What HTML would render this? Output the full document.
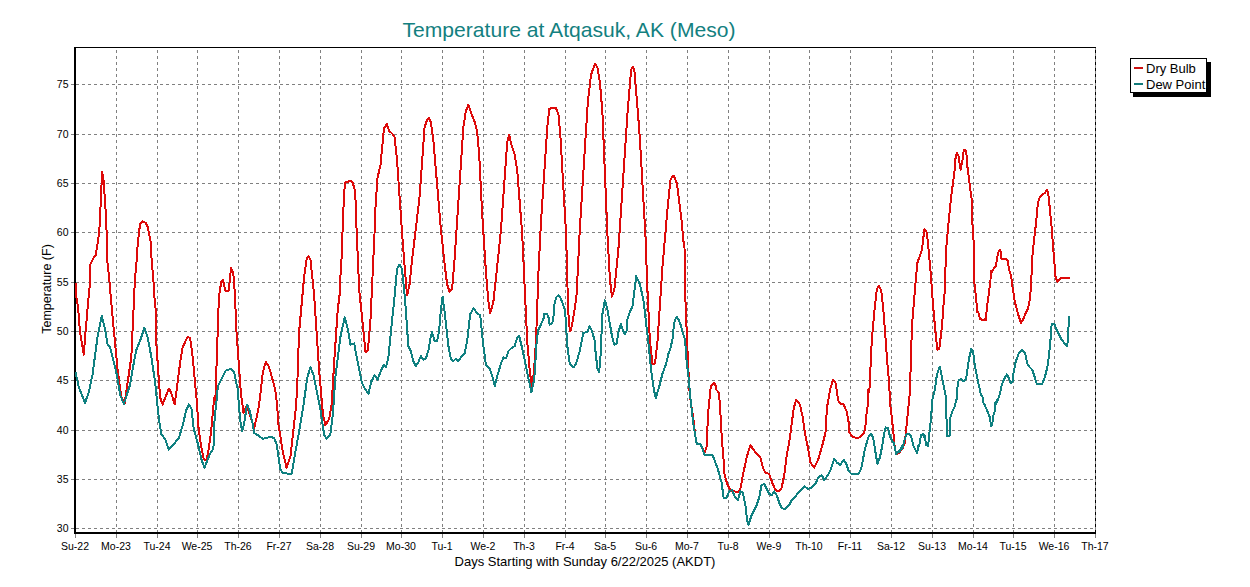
<!DOCTYPE html>
<html><head><meta charset="utf-8"><style>
html,body{margin:0;padding:0;background:#fff;width:1250px;height:587px;overflow:hidden;position:relative;font-family:"Liberation Sans",sans-serif;}
.xl{position:absolute;top:540px;width:60px;text-align:center;font-size:10.5px;line-height:13px;color:#000;white-space:nowrap}
.yl{position:absolute;left:30px;width:38.5px;text-align:right;font-size:10.5px;line-height:13px;color:#000}
.title{position:absolute;left:-1px;top:18px;width:1140px;text-align:center;font-size:21.1px;line-height:24px;color:#138080;white-space:nowrap}
.xt{position:absolute;left:0;top:554px;width:1170px;text-align:center;font-size:13px;line-height:15px;color:#000;white-space:nowrap}
.yt{position:absolute;left:-3px;top:282px;width:100px;text-align:center;font-size:12.5px;line-height:14px;color:#000;transform:rotate(-90deg);white-space:nowrap}
.lg{position:absolute;left:1146px;font-size:13px;line-height:15px;color:#000;white-space:nowrap}
</style></head><body>
<svg width="1250" height="587" viewBox="0 0 1250 587" style="position:absolute;left:0;top:0"><line x1="76" y1="528.5" x2="1095" y2="528.5" stroke="#808080" stroke-width="1" stroke-dasharray="3 3" stroke-dashoffset="0"/><line x1="71" y1="528.5" x2="79" y2="528.5" stroke="#808080" stroke-width="1"/><line x1="76" y1="479.5" x2="1095" y2="479.5" stroke="#808080" stroke-width="1" stroke-dasharray="3 3" stroke-dashoffset="0"/><line x1="71" y1="479.5" x2="79" y2="479.5" stroke="#808080" stroke-width="1"/><line x1="76" y1="430.5" x2="1095" y2="430.5" stroke="#808080" stroke-width="1" stroke-dasharray="3 3" stroke-dashoffset="0"/><line x1="71" y1="430.5" x2="79" y2="430.5" stroke="#808080" stroke-width="1"/><line x1="76" y1="380.5" x2="1095" y2="380.5" stroke="#808080" stroke-width="1" stroke-dasharray="3 3" stroke-dashoffset="0"/><line x1="71" y1="380.5" x2="79" y2="380.5" stroke="#808080" stroke-width="1"/><line x1="76" y1="331.5" x2="1095" y2="331.5" stroke="#808080" stroke-width="1" stroke-dasharray="3 3" stroke-dashoffset="0"/><line x1="71" y1="331.5" x2="79" y2="331.5" stroke="#808080" stroke-width="1"/><line x1="76" y1="282.5" x2="1095" y2="282.5" stroke="#808080" stroke-width="1" stroke-dasharray="3 3" stroke-dashoffset="0"/><line x1="71" y1="282.5" x2="79" y2="282.5" stroke="#808080" stroke-width="1"/><line x1="76" y1="232.5" x2="1095" y2="232.5" stroke="#808080" stroke-width="1" stroke-dasharray="3 3" stroke-dashoffset="0"/><line x1="71" y1="232.5" x2="79" y2="232.5" stroke="#808080" stroke-width="1"/><line x1="76" y1="183.5" x2="1095" y2="183.5" stroke="#808080" stroke-width="1" stroke-dasharray="3 3" stroke-dashoffset="0"/><line x1="71" y1="183.5" x2="79" y2="183.5" stroke="#808080" stroke-width="1"/><line x1="76" y1="134.5" x2="1095" y2="134.5" stroke="#808080" stroke-width="1" stroke-dasharray="3 3" stroke-dashoffset="0"/><line x1="71" y1="134.5" x2="79" y2="134.5" stroke="#808080" stroke-width="1"/><line x1="76" y1="84.5" x2="1095" y2="84.5" stroke="#808080" stroke-width="1" stroke-dasharray="3 3" stroke-dashoffset="0"/><line x1="71" y1="84.5" x2="79" y2="84.5" stroke="#808080" stroke-width="1"/><line x1="116.5" y1="48" x2="116.5" y2="532" stroke="#808080" stroke-width="1" stroke-dasharray="3 3" stroke-dashoffset="4"/><line x1="157.5" y1="48" x2="157.5" y2="532" stroke="#808080" stroke-width="1" stroke-dasharray="3 3" stroke-dashoffset="4"/><line x1="197.5" y1="48" x2="197.5" y2="532" stroke="#808080" stroke-width="1" stroke-dasharray="3 3" stroke-dashoffset="4"/><line x1="238.5" y1="48" x2="238.5" y2="532" stroke="#808080" stroke-width="1" stroke-dasharray="3 3" stroke-dashoffset="4"/><line x1="279.5" y1="48" x2="279.5" y2="532" stroke="#808080" stroke-width="1" stroke-dasharray="3 3" stroke-dashoffset="4"/><line x1="320.5" y1="48" x2="320.5" y2="532" stroke="#808080" stroke-width="1" stroke-dasharray="3 3" stroke-dashoffset="4"/><line x1="361.5" y1="48" x2="361.5" y2="532" stroke="#808080" stroke-width="1" stroke-dasharray="3 3" stroke-dashoffset="4"/><line x1="401.5" y1="48" x2="401.5" y2="532" stroke="#808080" stroke-width="1" stroke-dasharray="3 3" stroke-dashoffset="4"/><line x1="442.5" y1="48" x2="442.5" y2="532" stroke="#808080" stroke-width="1" stroke-dasharray="3 3" stroke-dashoffset="4"/><line x1="483.5" y1="48" x2="483.5" y2="532" stroke="#808080" stroke-width="1" stroke-dasharray="3 3" stroke-dashoffset="4"/><line x1="524.5" y1="48" x2="524.5" y2="532" stroke="#808080" stroke-width="1" stroke-dasharray="3 3" stroke-dashoffset="4"/><line x1="565.5" y1="48" x2="565.5" y2="532" stroke="#808080" stroke-width="1" stroke-dasharray="3 3" stroke-dashoffset="4"/><line x1="605.5" y1="48" x2="605.5" y2="532" stroke="#808080" stroke-width="1" stroke-dasharray="3 3" stroke-dashoffset="4"/><line x1="646.5" y1="48" x2="646.5" y2="532" stroke="#808080" stroke-width="1" stroke-dasharray="3 3" stroke-dashoffset="4"/><line x1="687.5" y1="48" x2="687.5" y2="532" stroke="#808080" stroke-width="1" stroke-dasharray="3 3" stroke-dashoffset="4"/><line x1="728.5" y1="48" x2="728.5" y2="532" stroke="#808080" stroke-width="1" stroke-dasharray="3 3" stroke-dashoffset="4"/><line x1="769.5" y1="48" x2="769.5" y2="532" stroke="#808080" stroke-width="1" stroke-dasharray="3 3" stroke-dashoffset="4"/><line x1="809.5" y1="48" x2="809.5" y2="532" stroke="#808080" stroke-width="1" stroke-dasharray="3 3" stroke-dashoffset="4"/><line x1="850.5" y1="48" x2="850.5" y2="532" stroke="#808080" stroke-width="1" stroke-dasharray="3 3" stroke-dashoffset="4"/><line x1="891.5" y1="48" x2="891.5" y2="532" stroke="#808080" stroke-width="1" stroke-dasharray="3 3" stroke-dashoffset="4"/><line x1="932.5" y1="48" x2="932.5" y2="532" stroke="#808080" stroke-width="1" stroke-dasharray="3 3" stroke-dashoffset="4"/><line x1="973.5" y1="48" x2="973.5" y2="532" stroke="#808080" stroke-width="1" stroke-dasharray="3 3" stroke-dashoffset="4"/><line x1="1013.5" y1="48" x2="1013.5" y2="532" stroke="#808080" stroke-width="1" stroke-dasharray="3 3" stroke-dashoffset="4"/><line x1="1054.5" y1="48" x2="1054.5" y2="532" stroke="#808080" stroke-width="1" stroke-dasharray="3 3" stroke-dashoffset="4"/><line x1="75.5" y1="530" x2="75.5" y2="538" stroke="#808080" stroke-width="1"/><line x1="116.5" y1="530" x2="116.5" y2="538" stroke="#808080" stroke-width="1"/><line x1="157.5" y1="530" x2="157.5" y2="538" stroke="#808080" stroke-width="1"/><line x1="197.5" y1="530" x2="197.5" y2="538" stroke="#808080" stroke-width="1"/><line x1="238.5" y1="530" x2="238.5" y2="538" stroke="#808080" stroke-width="1"/><line x1="279.5" y1="530" x2="279.5" y2="538" stroke="#808080" stroke-width="1"/><line x1="320.5" y1="530" x2="320.5" y2="538" stroke="#808080" stroke-width="1"/><line x1="361.5" y1="530" x2="361.5" y2="538" stroke="#808080" stroke-width="1"/><line x1="401.5" y1="530" x2="401.5" y2="538" stroke="#808080" stroke-width="1"/><line x1="442.5" y1="530" x2="442.5" y2="538" stroke="#808080" stroke-width="1"/><line x1="483.5" y1="530" x2="483.5" y2="538" stroke="#808080" stroke-width="1"/><line x1="524.5" y1="530" x2="524.5" y2="538" stroke="#808080" stroke-width="1"/><line x1="565.5" y1="530" x2="565.5" y2="538" stroke="#808080" stroke-width="1"/><line x1="605.5" y1="530" x2="605.5" y2="538" stroke="#808080" stroke-width="1"/><line x1="646.5" y1="530" x2="646.5" y2="538" stroke="#808080" stroke-width="1"/><line x1="687.5" y1="530" x2="687.5" y2="538" stroke="#808080" stroke-width="1"/><line x1="728.5" y1="530" x2="728.5" y2="538" stroke="#808080" stroke-width="1"/><line x1="769.5" y1="530" x2="769.5" y2="538" stroke="#808080" stroke-width="1"/><line x1="809.5" y1="530" x2="809.5" y2="538" stroke="#808080" stroke-width="1"/><line x1="850.5" y1="530" x2="850.5" y2="538" stroke="#808080" stroke-width="1"/><line x1="891.5" y1="530" x2="891.5" y2="538" stroke="#808080" stroke-width="1"/><line x1="932.5" y1="530" x2="932.5" y2="538" stroke="#808080" stroke-width="1"/><line x1="973.5" y1="530" x2="973.5" y2="538" stroke="#808080" stroke-width="1"/><line x1="1013.5" y1="530" x2="1013.5" y2="538" stroke="#808080" stroke-width="1"/><line x1="1054.5" y1="530" x2="1054.5" y2="538" stroke="#808080" stroke-width="1"/><line x1="1095.5" y1="530" x2="1095.5" y2="538" stroke="#808080" stroke-width="1"/><line x1="1095.5" y1="48" x2="1095.5" y2="532" stroke="#888" stroke-width="1"/><line x1="1095.5" y1="48" x2="1095.5" y2="532" stroke="#000" stroke-width="1" stroke-dasharray="3 3" stroke-dashoffset="4"/><rect x="74" y="47" width="1022" height="1" fill="#000"/><rect x="74" y="47" width="2" height="487" fill="#000"/><rect x="74" y="532" width="1022" height="2" fill="#000"/><path d="M75.6,282.8 L76.4,297.3 L78.0,306.9 L80.0,332.1 L83.8,354.7 L85.5,332.1 L88.4,298.9 L90.0,282.8 L90.0,265.2 L94.0,257.2 L95.6,255.6 L97.2,246.0 L98.8,234.8 L99.5,227.7 L100.5,207.6 L102.1,171.8 L103.6,180.1 L105.1,202.6 L106.3,220.2 L107.1,258.8 L109.2,278.0 L110.8,297.3 L113.8,329.6 L117.6,369.7 L121.3,397.2 L124.6,403.5 L131.3,357.2 L134.1,297.3 L134.9,279.6 L136.5,262.0 L137.3,249.2 L138.9,233.2 L140.1,223.9 L142.6,221.4 L145.6,222.7 L148.1,227.7 L148.5,230.8 L150.9,242.8 L151.7,262.0 L153.3,278.0 L154.1,294.1 L155.7,310.1 L156.4,344.6 L160.1,397.2 L162.6,404.5 L168.9,388.5 L171.4,393.5 L174.7,404.5 L180.2,362.2 L182.7,347.1 L187.7,336.6 L190.2,338.4 L192.7,357.2 L197.0,403.6 L198.4,426.8 L200.4,441.8 L203.8,459.5 L206.6,459.5 L208.6,449.9 L210.7,435.0 L212.7,414.5 L214.1,398.2 L215.2,404.0 L217.7,332.1 L218.9,297.3 L221.3,281.2 L222.9,279.6 L225.3,290.8 L228.5,290.8 L230.1,278.0 L230.9,267.6 L233.3,273.2 L234.9,294.1 L236.5,332.1 L240.9,393.3 L243.5,412.7 L246.8,405.5 L254.2,428.0 L258.3,409.6 L260.3,395.3 L262.8,372.2 L265.8,361.7 L269.1,367.2 L275.2,389.2 L277.2,405.5 L278.2,422.9 L282.8,451.6 L286.6,467.9 L290.4,456.6 L295.6,410.6 L297.1,390.2 L298.0,362.1 L299.1,332.1 L304.1,277.0 L306.6,259.0 L308.4,256.5 L310.4,259.0 L314.1,294.6 L319.1,369.7 L322.9,414.0 L325.4,425.3 L329.2,419.0 L331.7,404.0 L334.2,362.2 L337.9,307.1 L339.4,298.3 L340.0,283.7 L341.1,264.6 L341.7,256.7 L342.9,220.2 L343.8,200.4 L344.9,182.5 L347.2,181.9 L350.6,180.8 L352.8,183.0 L354.8,190.3 L355.5,200.1 L356.7,232.7 L359.2,289.6 L363.0,327.1 L365.5,352.2 L368.0,349.6 L370.5,319.6 L374.5,234.1 L375.0,215.2 L377.5,177.6 L380.5,165.1 L384.0,128.4 L387.0,124.1 L389.0,130.9 L392.0,133.4 L394.5,137.1 L397.0,159.7 L402.0,231.6 L404.6,266.6 L407.1,295.4 L409.6,284.2 L412.1,259.1 L415.8,229.1 L419.6,196.5 L424.6,127.1 L427.1,119.6 L429.1,117.9 L430.8,122.1 L433.3,139.6 L440.9,229.1 L444.6,264.1 L447.1,284.2 L449.6,291.7 L452.1,289.2 L454.6,259.1 L457.1,221.6 L463.4,127.1 L465.9,110.9 L468.4,104.6 L470.9,112.1 L474.7,122.1 L477.2,132.1 L479.2,154.7 L482.2,214.0 L485.9,271.6 L488.4,301.7 L490.2,313.0 L493.4,301.7 L497.2,266.6 L501.0,229.1 L507.2,142.2 L509.2,135.1 L511.7,145.9 L514.7,154.7 L517.2,169.7 L522.2,234.1 L527.2,341.0 L529.8,371.1 L532.3,389.9 L534.3,366.1 L536.0,341.0 L538.5,271.6 L541.0,221.6 L547.3,127.1 L549.3,109.1 L552.3,107.6 L556.0,108.3 L558.5,114.6 L560.3,134.6 L566.1,234.1 L568.0,305.4 L569.0,323.8 L570.1,331.5 L571.1,328.9 L573.1,318.7 L575.2,305.4 L576.7,293.2 L579.8,229.1 L587.8,102.1 L591.1,74.5 L594.9,64.0 L597.4,67.0 L599.9,82.1 L602.4,112.1 L607.4,234.1 L609.9,279.2 L611.9,296.7 L614.4,289.2 L618.6,246.6 L627.4,114.6 L629.9,84.6 L631.2,69.5 L632.9,66.5 L634.4,70.8 L636.2,92.1 L637.9,112.1 L639.9,139.6 L645.4,234.1 L647.4,289.2 L649.9,341.0 L652.4,363.6 L655.0,363.6 L657.5,341.0 L662.5,266.6 L667.5,209.0 L670.5,179.7 L673.0,176.0 L674.0,176.3 L677.0,183.8 L679.0,200.1 L681.5,220.1 L684.0,246.6 L684.5,247.7 L685.3,297.0 L687.0,339.6 L689.4,390.4 L690.9,403.7 L693.0,416.0 L695.3,436.2 L696.9,444.4 L700.4,443.9 L702.0,447.5 L704.5,452.6 L706.6,447.0 L707.1,438.3 L707.8,417.0 L709.8,395.5 L710.9,385.8 L713.9,382.8 L715.5,385.3 L716.5,389.9 L719.0,393.0 L720.1,407.8 L721.9,440.3 L723.4,455.6 L723.9,471.0 L726.0,480.2 L727.8,485.1 L730.3,490.1 L734.1,491.4 L737.9,492.1 L740.4,488.9 L742.9,475.1 L746.6,457.6 L750.4,445.1 L752.9,448.8 L756.6,453.8 L760.4,457.6 L762.9,467.6 L765.4,472.6 L769.2,473.9 L772.2,482.6 L775.4,490.1 L779.2,491.4 L781.7,487.6 L784.2,475.1 L786.7,455.1 L789.2,442.6 L793.8,407.8 L796.3,399.6 L799.9,404.7 L802.5,416.0 L805.5,436.3 L808.0,447.6 L810.5,462.6 L814.2,467.6 L818.0,460.1 L821.7,447.6 L825.5,432.6 L826.0,420.1 L827.5,404.7 L830.1,389.4 L833.1,379.7 L835.7,383.3 L838.2,400.6 L840.3,403.7 L843.3,403.7 L846.4,410.9 L848.4,420.1 L849.4,432.4 L852.5,436.8 L856.8,438.0 L860.0,437.4 L863.7,433.7 L865.0,429.9 L866.8,411.2 L867.3,412.5 L868.1,389.7 L869.3,392.5 L871.8,339.6 L874.3,312.1 L876.8,289.5 L878.8,285.8 L881.3,290.8 L883.1,307.0 L885.6,339.6 L888.1,372.2 L889.3,383.7 L889.9,405.0 L890.6,407.2 L891.8,417.4 L893.7,436.2 L894.9,448.6 L896.2,454.3 L899.3,452.5 L902.4,448.7 L904.9,442.5 L908.0,411.2 L909.9,392.5 L911.9,327.1 L913.9,302.0 L915.6,282.0 L917.4,262.7 L921.9,250.2 L924.4,228.9 L926.9,232.6 L928.9,252.7 L930.7,272.7 L933.2,307.0 L935.7,334.6 L937.4,350.1 L939.4,348.4 L941.9,326.2 L941.9,327.1 L943.7,302.4 L944.4,297.0 L946.2,248.7 L948.1,227.5 L951.2,196.2 L953.1,182.4 L954.4,172.4 L955.6,157.5 L956.8,152.5 L958.5,156.2 L960.6,170.0 L962.5,160.0 L963.7,150.6 L965.0,149.4 L966.2,151.2 L967.5,167.5 L969.3,181.2 L971.2,196.2 L971.5,197.6 L972.2,220.0 L973.7,242.4 L974.3,282.5 L975.7,294.5 L977.4,312.4 L978.2,312.1 L979.9,318.7 L981.5,319.6 L982.4,319.9 L985.6,319.3 L986.0,320.1 L986.8,307.4 L988.7,295.0 L990.5,280.0 L990.9,271.1 L991.8,271.9 L993.7,268.6 L996.2,266.2 L996.8,258.7 L998.7,251.2 L999.9,249.9 L1000.9,252.4 L1001.2,258.7 L1004.9,258.7 L1007.4,259.9 L1009.3,269.9 L1011.1,276.2 L1012.4,286.2 L1014.9,302.4 L1018.0,313.7 L1020.9,323.0 L1023.0,319.9 L1025.5,313.7 L1028.0,308.7 L1029.9,298.7 L1031.1,285.0 L1032.3,257.4 L1034.2,238.7 L1036.1,222.5 L1038.0,202.4 L1039.8,197.4 L1042.3,194.9 L1044.8,193.0 L1047.1,189.9 L1048.3,193.7 L1049.2,202.4 L1051.7,227.5 L1052.9,244.9 L1054.2,259.9 L1055.4,274.9 L1055.4,276.2 L1057.3,281.9 L1059.8,278.7 L1063.5,277.7 L1069.8,277.7" fill="none" stroke="#dd0a0a" stroke-width="2" stroke-linejoin="round" shape-rendering="crispEdges"/><path d="M75.5,372.2 L78.8,387.2 L85.0,402.8 L88.8,392.2 L92.5,374.7 L97.5,337.1 L101.8,315.8 L105.1,329.6 L107.6,344.6 L110.1,347.1 L112.6,357.2 L116.3,372.2 L120.1,394.7 L123.8,404.0 L130.1,384.7 L133.9,362.2 L136.4,349.6 L140.1,340.9 L144.4,327.9 L147.6,337.1 L151.4,357.2 L155.1,382.2 L158.9,419.0 L161.4,434.1 L165.2,439.1 L168.9,449.6 L173.9,444.1 L178.9,437.8 L182.7,425.4 L186.1,410.4 L188.9,404.3 L191.6,409.1 L193.6,428.1 L197.7,443.1 L201.8,460.8 L204.5,467.7 L210.0,454.0 L213.4,448.6 L214.1,430.9 L214.7,417.2 L216.8,398.2 L217.9,386.0 L225.6,370.7 L230.7,369.0 L234.1,372.4 L237.9,390.2 L238.9,405.5 L240.4,420.9 L242.0,431.6 L244.0,423.9 L247.1,404.5 L249.6,410.6 L252.7,423.9 L254.2,433.1 L257.8,435.2 L262.9,438.7 L271.1,436.7 L274.1,438.2 L276.6,444.1 L280.3,469.1 L282.8,472.9 L287.8,473.6 L291.6,474.1 L294.1,459.1 L299.1,431.6 L302.9,409.0 L307.4,377.2 L310.4,367.2 L313.4,374.7 L317.9,397.2 L320.4,409.0 L324.2,435.3 L326.7,438.6 L330.4,434.1 L332.9,414.0 L335.4,377.2 L340.4,337.1 L344.7,317.1 L347.9,329.6 L350.4,344.6 L354.2,343.4 L356.7,357.2 L361.7,382.2 L365.5,389.7 L368.5,393.5 L371.7,379.7 L372.0,381.1 L374.5,374.8 L377.5,379.8 L380.8,371.1 L384.0,364.8 L385.8,367.3 L388.3,358.6 L390.8,333.5 L394.5,296.7 L397.0,269.1 L399.5,264.6 L402.0,269.1 L404.1,289.2 L405.8,309.2 L408.3,346.0 L410.8,351.0 L413.3,361.1 L415.8,366.1 L418.3,362.3 L420.8,356.1 L423.3,359.8 L425.8,358.6 L428.3,351.0 L430.8,336.0 L432.1,332.3 L434.6,341.0 L437.1,341.0 L439.1,331.0 L440.9,309.2 L442.6,296.7 L444.6,311.7 L448.4,346.0 L450.9,358.6 L453.4,361.1 L455.9,358.6 L458.4,361.1 L460.9,357.3 L464.6,353.6 L467.2,341.0 L470.2,314.2 L473.4,308.4 L477.2,313.0 L480.2,315.5 L483.4,346.0 L485.9,364.8 L489.7,368.6 L492.2,376.1 L494.7,386.1 L497.2,376.1 L501.0,363.6 L503.5,357.3 L506.0,358.6 L508.5,351.0 L511.0,348.5 L514.7,346.0 L517.2,337.3 L519.2,336.0 L522.2,348.5 L526.0,366.1 L528.5,378.6 L531.5,392.4 L534.3,378.6 L536.9,338.1 L538.4,329.9 L540.4,325.9 L543.5,318.7 L544.5,313.6 L547.1,314.1 L548.6,317.7 L549.6,324.8 L551.2,323.8 L553.2,320.8 L554.2,305.4 L556.3,297.3 L558.3,295.2 L560.3,297.3 L562.9,304.4 L564.9,310.5 L566.0,321.8 L566.5,333.0 L567.3,346.0 L569.8,363.6 L573.6,367.3 L576.1,363.6 L579.8,351.0 L582.3,338.1 L583.3,333.0 L587.4,332.0 L589.5,325.9 L591.5,329.9 L594.6,340.2 L594.9,346.0 L597.4,368.6 L599.1,372.3 L600.4,358.6 L602.4,314.2 L604.9,300.4 L607.4,309.2 L611.9,335.7 L614.2,344.7 L616.4,344.2 L618.7,331.2 L620.9,323.9 L623.2,331.2 L624.9,334.1 L627.1,330.1 L627.4,319.2 L629.9,311.7 L632.4,306.7 L636.2,276.1 L639.9,284.2 L643.7,301.7 L648.7,346.0 L651.2,371.1 L653.7,388.6 L655.7,398.1 L658.7,388.6 L662.5,373.6 L666.2,363.6 L668.6,353.1 L670.6,348.0 L672.7,337.8 L673.7,327.6 L674.7,320.4 L676.8,316.9 L678.3,318.9 L680.9,325.5 L682.9,333.7 L684.9,338.8 L685.5,346.0 L686.5,359.6 L688.5,377.2 L690.3,397.2 L692.8,420.0 L695.3,436.2 L696.9,444.4 L700.4,443.9 L702.0,447.5 L704.5,455.1 L712.7,455.1 L714.7,460.8 L717.8,468.9 L721.6,482.6 L723.6,497.7 L726.6,497.7 L729.1,491.4 L732.1,490.1 L735.3,497.7 L737.9,500.2 L740.4,491.4 L742.9,492.6 L745.4,505.2 L747.1,520.2 L748.6,524.7 L751.6,515.2 L754.1,510.2 L756.6,505.2 L759.1,497.7 L761.6,485.1 L764.1,483.9 L766.6,488.9 L769.2,493.9 L771.7,495.2 L774.2,491.4 L776.7,495.2 L779.2,502.7 L781.7,508.2 L785.4,508.9 L789.2,505.2 L791.7,500.2 L795.4,496.4 L799.2,491.4 L804.2,486.4 L808.0,488.9 L811.7,487.6 L815.5,483.9 L818.0,477.6 L821.7,475.1 L824.2,480.1 L828.0,475.1 L830.5,470.1 L834.3,458.8 L836.8,462.6 L839.3,463.9 L840.0,464.9 L843.7,460.0 L846.2,463.7 L848.7,471.2 L851.2,473.7 L858.7,473.7 L861.2,468.7 L865.0,448.7 L868.7,436.2 L871.2,433.7 L873.1,437.5 L874.9,448.7 L877.4,463.7 L879.9,457.5 L882.4,445.0 L883.7,436.2 L885.6,427.4 L888.0,428.0 L889.9,436.2 L892.4,441.2 L893.7,442.5 L896.2,454.3 L898.7,451.1 L899.3,452.5 L901.8,446.1 L902.4,448.7 L904.9,438.7 L906.8,433.7 L907.4,433.7 L909.9,434.3 L911.1,436.2 L911.8,438.7 L913.6,446.1 L914.9,448.7 L917.1,453.1 L918.6,444.9 L919.2,446.2 L921.1,434.9 L922.4,435.0 L923.4,433.7 L924.9,438.7 L924.9,436.2 L926.1,444.9 L927.4,445.0 L928.0,446.1 L929.2,436.2 L929.2,435.0 L931.1,417.4 L932.3,400.0 L934.8,390.0 L936.9,374.7 L939.9,366.6 L945.5,395.0 L946.7,423.7 L947.3,436.2 L949.6,436.2 L950.1,418.7 L952.3,411.2 L954.8,406.2 L956.7,398.7 L956.8,388.7 L957.9,386.2 L958.7,379.9 L961.2,379.3 L963.7,381.2 L966.2,378.7 L967.5,368.7 L969.3,357.5 L971.4,348.7 L973.1,351.2 L974.9,366.2 L977.4,378.7 L979.9,389.9 L981.0,395.0 L982.4,396.2 L983.7,403.7 L984.8,405.0 L987.4,411.2 L989.8,417.4 L989.9,417.5 L991.2,426.2 L991.4,426.2 L992.4,422.5 L993.5,414.9 L994.3,413.7 L995.5,402.5 L996.1,403.7 L997.4,399.9 L998.0,400.0 L999.9,393.7 L1001.8,384.9 L1004.3,378.7 L1006.8,374.3 L1008.6,377.4 L1010.5,383.0 L1012.4,382.4 L1013.6,372.4 L1015.5,362.5 L1018.6,353.7 L1022.4,350.0 L1024.9,352.5 L1027.4,363.7 L1029.9,367.4 L1032.3,369.9 L1034.8,377.4 L1036.7,383.7 L1039.8,383.7 L1042.3,383.7 L1044.8,377.4 L1047.3,367.4 L1049.2,353.7 L1050.4,341.2 L1051.7,323.7 L1054.2,323.7 L1056.1,328.7 L1061.1,338.7 L1064.8,343.7 L1067.3,346.2 L1069.2,316.2" fill="none" stroke="#0f8080" stroke-width="2" stroke-linejoin="round" shape-rendering="crispEdges"/><rect x="1133" y="62" width="78" height="35" fill="#000"/><rect x="1130.5" y="58.5" width="76" height="34" fill="#fff" stroke="#000" stroke-width="1"/><rect x="1134" y="67" width="9" height="2" fill="#cc1111"/><rect x="1134" y="83" width="9" height="2" fill="#117a7a"/></svg>
<div class="title">Temperature at Atqasuk, AK (Meso)</div>
<div class="xl" style="left:45.0px">Su-22</div><div class="xl" style="left:86.0px">Mo-23</div><div class="xl" style="left:127.0px">Tu-24</div><div class="xl" style="left:167.0px">We-25</div><div class="xl" style="left:208.0px">Th-26</div><div class="xl" style="left:249.0px">Fr-27</div><div class="xl" style="left:290.0px">Sa-28</div><div class="xl" style="left:331.0px">Su-29</div><div class="xl" style="left:371.0px">Mo-30</div><div class="xl" style="left:412.0px">Tu-1</div><div class="xl" style="left:453.0px">We-2</div><div class="xl" style="left:494.0px">Th-3</div><div class="xl" style="left:535.0px">Fr-4</div><div class="xl" style="left:575.0px">Sa-5</div><div class="xl" style="left:616.0px">Su-6</div><div class="xl" style="left:657.0px">Mo-7</div><div class="xl" style="left:698.0px">Tu-8</div><div class="xl" style="left:739.0px">We-9</div><div class="xl" style="left:779.0px">Th-10</div><div class="xl" style="left:820.0px">Fr-11</div><div class="xl" style="left:861.0px">Sa-12</div><div class="xl" style="left:902.0px">Su-13</div><div class="xl" style="left:943.0px">Mo-14</div><div class="xl" style="left:983.0px">Tu-15</div><div class="xl" style="left:1024.0px">We-16</div><div class="xl" style="left:1065.0px">Th-17</div><div class="yl" style="top:522.0px">30</div><div class="yl" style="top:473.0px">35</div><div class="yl" style="top:424.0px">40</div><div class="yl" style="top:374.0px">45</div><div class="yl" style="top:325.0px">50</div><div class="yl" style="top:276.0px">55</div><div class="yl" style="top:226.0px">60</div><div class="yl" style="top:177.0px">65</div><div class="yl" style="top:128.0px">70</div><div class="yl" style="top:78.0px">75</div>
<div class="xt">Days Starting with Sunday 6/22/2025 (AKDT)</div>
<div class="yt">Temperature (F)</div>
<div class="lg" style="top:61px">Dry Bulb</div>
<div class="lg" style="top:77px">Dew Point</div>
</body></html>
